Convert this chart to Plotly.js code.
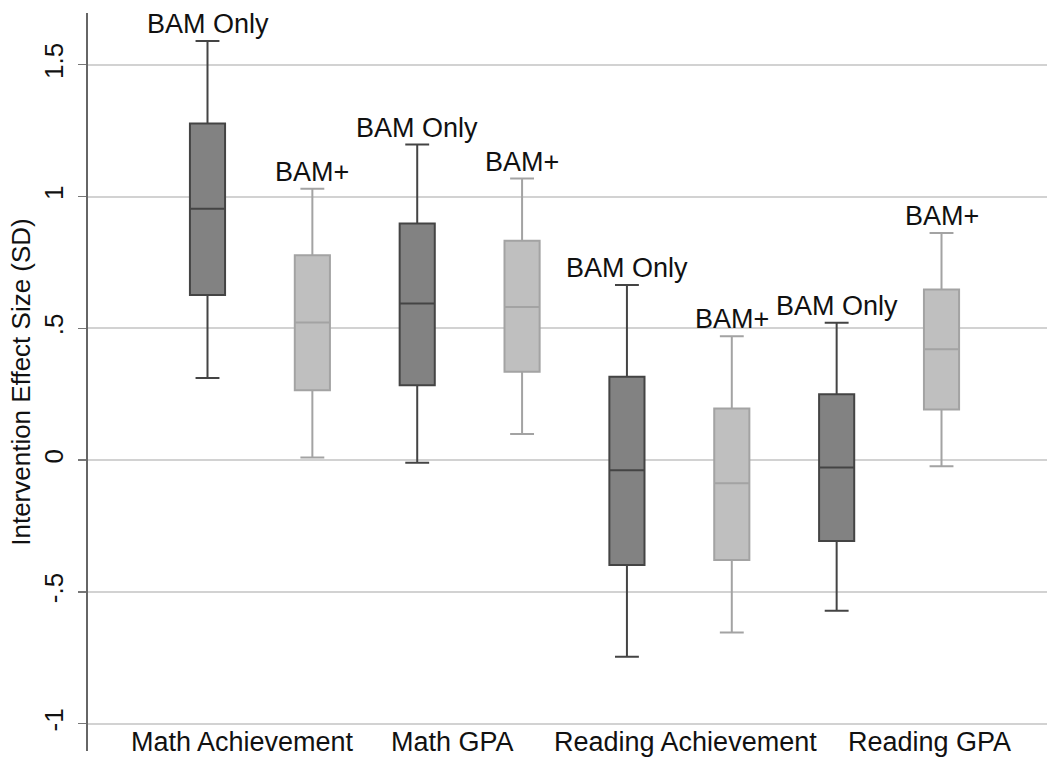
<!DOCTYPE html>
<html>
<head>
<meta charset="utf-8">
<script src="https://cdn.plot.ly/plotly-3.0.1.min.js"></script>
<style>html,body{margin:0;padding:0;background:#fff;}#chart{width:1047px;height:759px;}</style>
</head>
<body>
<div id="chart"></div>
<script>
// Outcome groups and their label positions along the x axis
var outcomes = ["Math Achievement", "Math GPA", "Reading Achievement", "Reading GPA"];
var outcomeLabelPos = [1.334, 3.332, 5.558, 7.889];

// BAM Only boxes (dark)
var bamOnlyPos = [1, 3, 5, 7];
var bamOnlyLow = [0.312, -0.010, -0.746, -0.571];
var bamOnlyQ1 = [0.626, 0.284, -0.398, -0.307];
var bamOnlyMed = [0.954, 0.594, -0.038, -0.028];
var bamOnlyQ3 = [1.277, 0.898, 0.316, 0.250];
var bamOnlyHigh = [1.590, 1.197, 0.664, 0.521];

// BAM+ boxes (light)
var bamPlusPos = [2, 4, 6, 8];
var bamPlusLow = [0.010, 0.099, -0.654, -0.023];
var bamPlusQ1 = [0.265, 0.335, -0.379, 0.192];
var bamPlusMed = [0.522, 0.581, -0.088, 0.421];
var bamPlusQ3 = [0.777, 0.832, 0.196, 0.647];
var bamPlusHigh = [1.030, 1.068, 0.470, 0.862];

var seriesNames = ["BAM Only", "BAM+"];

// Y axis ticks
var yTickVals = [-1, -0.5, 0, 0.5, 1, 1.5];
var yTickText = ["-1", "-.5", "0", ".5", "1", "1.5"];

var FONT = "Liberation Sans, Arial, Helvetica, sans-serif";

var traces = [
  {
    type: "box", name: seriesNames[0], x: bamOnlyPos,
    lowerfence: bamOnlyLow, q1: bamOnlyQ1, median: bamOnlyMed, q3: bamOnlyQ3, upperfence: bamOnlyHigh,
    width: 0.335, whiskerwidth: 0.68,
    fillcolor: "#828282", line: {color: "#444444", width: 2},
    boxpoints: false, hoverinfo: "y"
  },
  {
    type: "box", name: seriesNames[1], x: bamPlusPos,
    lowerfence: bamPlusLow, q1: bamPlusQ1, median: bamPlusMed, q3: bamPlusQ3, upperfence: bamPlusHigh,
    width: 0.335, whiskerwidth: 0.68,
    fillcolor: "#bfbfbf", line: {color: "#a3a3a3", width: 2},
    boxpoints: false, hoverinfo: "y"
  }
];

var annotations = [];
bamOnlyPos.forEach(function (p, i) {
  annotations.push({x: p, y: bamOnlyHigh[i], xref: "x", yref: "y", text: seriesNames[0],
    showarrow: false, xanchor: "center", yanchor: "bottom", yshift: 0,
    font: {family: FONT, size: 27, color: "#111"}});
});
bamPlusPos.forEach(function (p, i) {
  annotations.push({x: p, y: bamPlusHigh[i], xref: "x", yref: "y", text: seriesNames[1],
    showarrow: false, xanchor: "center", yanchor: "bottom", yshift: 0,
    font: {family: FONT, size: 27, color: "#111"}});
});
outcomes.forEach(function (o, i) {
  annotations.push({x: outcomeLabelPos[i], y: 0.012, xref: "x", yref: "paper", text: o,
    showarrow: false, xanchor: "center", yanchor: "middle",
    font: {family: FONT, size: 27, color: "#111"}});
});

var layout = {
  width: 1047, height: 759,
  margin: {l: 88, r: 0, t: 13, b: 8, pad: 0},
  paper_bgcolor: "#fff", plot_bgcolor: "#fff",
  showlegend: false,
  boxmode: "overlay",
  font: {family: FONT, size: 25, color: "#111"},
  xaxis: {
    range: [-0.1396, 9.006], showgrid: false, zeroline: false, showline: false,
    showticklabels: false, ticks: "", fixedrange: true
  },
  yaxis: {
    range: [-1.1035, 1.6963], tickvals: yTickVals, ticktext: yTickText,
    tickangle: -90, ticks: "outside", ticklen: 8, tickwidth: 1.5, tickcolor: "#777",
    ticklabelstandoff: 5,
    showline: true, linecolor: "#666", linewidth: 2,
    showgrid: true, gridcolor: "#d2d2d2", gridwidth: 2, zeroline: false,
    tickfont: {family: FONT, size: 26, color: "#111"},
    title: {text: "Intervention Effect Size (SD)", font: {family: FONT, size: 26, color: "#111"}, standoff: 0},
    automargin: false, fixedrange: true
  },
  annotations: annotations
};

Plotly.newPlot("chart", traces, layout, {displayModeBar: false, staticPlot: true});
</script>
</body>
</html>
